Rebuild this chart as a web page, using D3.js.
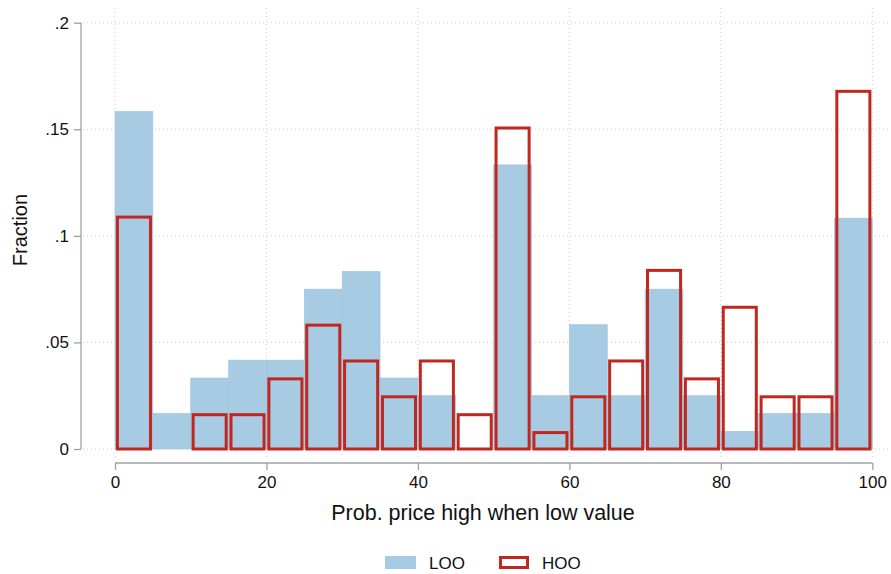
<!DOCTYPE html>
<html><head><meta charset="utf-8">
<script src="https://cdn.jsdelivr.net/npm/d3@7"></script>
<style>body{margin:0;background:#fff}svg{display:block;font-family:"Liberation Sans",Arial,Helvetica,sans-serif}</style>
</head><body><svg id="c" width="891" height="574"></svg>
<script>
const binStarts = [0,5,10,15,20,25,30,35,40,45,50,55,60,65,70,75,80,85,90,95];
const binWidth = 5;
const looValues = [0.1583,0.0167,0.0333,0.0417,0.0417,0.075,0.0833,0.0333,0.025,0,0.1333,0.025,0.0583,0.025,0.075,0.025,0.0083,0.0167,0.0167,0.1083];
const hooValues = [0.1095,0,0.0168,0.0168,0.0336,0.0588,0.042,0.0252,0.042,0.0168,0.1513,0.0084,0.0252,0.042,0.0845,0.0336,0.0672,0.0252,0.0252,0.1685];
const xTicks = [0,20,40,60,80,100];
const yTicks = [0,0.05,0.1,0.15,0.2];
const yTickLabels = ["0",".05",".1",".15",".2"];
const seriesNames = ["LOO","HOO"];
const xTitle = "Prob. price high when low value";
const yTitle = "Fraction";

const svg = d3.select("#c");
const x = d3.scaleLinear().domain([0,100]).range([115,872.3]);
const y = d3.scaleLinear().domain([0,0.2]).range([449,22.7]);
const blue = "#a7cbe3", red = "#c0281f", grid = "#cfcfcf", axisCol = "#a0a0a0";

// gridlines
const g = svg.append("g");
g.selectAll("line.h").data(yTicks).join("line")
  .attr("x1",83).attr("x2",891).attr("y1",d=>y(d)).attr("y2",d=>y(d))
  .attr("stroke",grid).attr("stroke-width",1).attr("stroke-dasharray","1,3");
g.selectAll("line.v").data(xTicks).join("line")
  .attr("x1",d=>x(d)).attr("x2",d=>x(d)).attr("y1",8).attr("y2",460)
  .attr("stroke",grid).attr("stroke-width",1).attr("stroke-dasharray","1,3");

// LOO bars
const bins = binStarts.map((s,i)=>({s, loo: looValues[i], hoo: hooValues[i]}));
svg.append("g").selectAll("rect").data(bins.filter(d=>d.loo>0)).join("rect")
  .attr("x",d=>x(d.s)).attr("width",d=>x(d.s+binWidth)-x(d.s))
  .attr("y",d=>y(d.loo)).attr("height",d=>y(0)-y(d.loo))
  .attr("fill",blue).attr("stroke","#9cc2dc").attr("stroke-width",0.6);

// HOO bars
const sw = 3, inset = 0.9;
svg.append("g").selectAll("rect").data(bins.filter(d=>d.hoo>0)).join("rect")
  .attr("x",d=>x(d.s)+inset+sw/2).attr("width",d=>x(d.s+binWidth)-x(d.s)-2*inset-sw)
  .attr("y",d=>y(d.hoo)+sw/2).attr("height",d=>y(0)-y(d.hoo)-sw/2)
  .attr("fill","none").attr("stroke",red).attr("stroke-width",sw);

// y axis
const ya = svg.append("g").attr("transform","translate(81,0)")
  .call(d3.axisLeft(y).tickValues(yTicks).tickFormat((d,i)=>yTickLabels[i]).tickSize(7).tickPadding(5));
ya.select(".domain").attr("stroke",axisCol).attr("stroke-width",1.3).attr("d",`M0,${y(0.2)}V${y(0)}`);
ya.selectAll(".tick line").attr("stroke",axisCol).attr("stroke-width",1.3);
ya.selectAll(".tick text").attr("font-size",17).attr("fill","#111").attr("font-family","Liberation Sans, Arial, sans-serif");

// x axis
const xa = svg.append("g").attr("transform","translate(0,463)")
  .call(d3.axisBottom(x).tickValues(xTicks).tickSize(7).tickPadding(6));
xa.select(".domain").attr("stroke",axisCol).attr("stroke-width",1.3).attr("d",`M${x(0)},0H${x(100)}`);
xa.selectAll(".tick line").attr("stroke",axisCol).attr("stroke-width",1.3);
xa.selectAll(".tick text").attr("font-size",17).attr("fill","#111").attr("font-family","Liberation Sans, Arial, sans-serif");

// titles
svg.append("text").attr("x",483).attr("y",520).attr("text-anchor","middle")
  .attr("font-size",21.5).attr("fill","#111").text(xTitle);
svg.append("text").attr("transform",`translate(27,230) rotate(-90)`).attr("text-anchor","middle")
  .attr("font-size",20).attr("fill","#111").text(yTitle);

// legend
const leg = svg.append("g");
leg.append("rect").attr("x",385).attr("y",556).attr("width",31).attr("height",13).attr("fill",blue);
leg.append("text").attr("x",429).attr("y",569).attr("font-size",17).attr("fill","#111").text(seriesNames[0]);
leg.append("rect").attr("x",500.5).attr("y",557.5).attr("width",27).attr("height",10).attr("fill","none").attr("stroke",red).attr("stroke-width",3);
leg.append("text").attr("x",542).attr("y",569).attr("font-size",17).attr("fill","#111").text(seriesNames[1]);
</script></body></html>
